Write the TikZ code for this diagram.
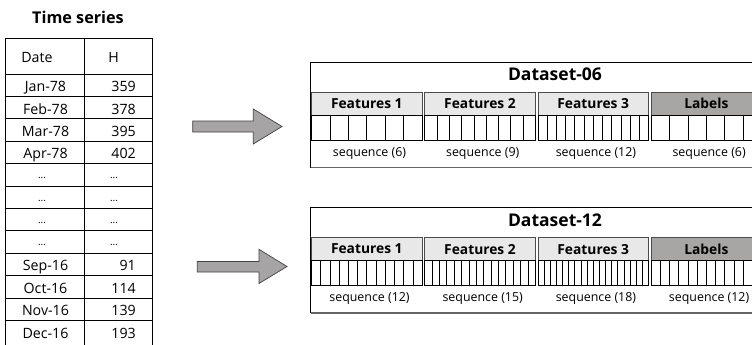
\documentclass[tikz,border=0pt]{standalone}
\usepackage{fontspec}
\setmainfont{Open Sans}
\definecolor{arrowgray}{HTML}{A6A4A4}
\definecolor{labgray}{HTML}{A8A5A5}
\definecolor{featgray}{HTML}{E8E8E8}
\newcommand{\tdd}{...}
\tikzset{
  tline/.style={draw=black, line width=0.9pt},
  ttext/.style={font=\fontsize{14.2}{16}\selectfont, inner sep=0pt},
  tdots/.style={font=\fontsize{10}{11}\selectfont, inner sep=0pt},
  bigtitle/.style={font=\bfseries\fontsize{16.2}{18}\selectfont, inner sep=0pt},
  dstitle/.style={font=\bfseries\fontsize{17.5}{19}\selectfont, inner sep=0pt},
  hdrtext/.style={font=\bfseries\fontsize{13.8}{15}\selectfont, inner sep=0pt},
  seqtext/.style={font=\fontsize{12.4}{13}\selectfont, inner sep=0pt},
  blockarrow/.style={draw=black!75, line width=0.7pt, fill=arrowgray},
  featfill/.style={draw=black!70, line width=0.7pt, fill=featgray},
  labfill/.style={draw=black!70, line width=0.7pt, fill=labgray},
  cellline/.style={draw=black, line width=0.7pt},
  dsbox/.style={draw=black, line width=0.8pt},
}
\newcommand{\dsblock}[7]{%
  % #1 name, #2 top y, #3 title, #4-#7 cell counts
  \draw[dsbox] (310.5,#2) rectangle (775,#2+105);
  \draw[black!60, line width=1.6pt] (310.5,#2+105.6) -- (775,#2+105.6);
  \node[dstitle, anchor=base] (#1-title) at (555,#2+19) {#3};
  \foreach \cnt/\lab/\sty [count=\j from 0] in {#4/Features 1/featfill, #5/Features 2/featfill, #6/Features 3/featfill, #7/Labels/labfill}{
    \pgfmathsetmacro\xl{311.5+113.2*\j}
    \pgfmathtruncatemacro\nm{\cnt-1}
    \draw[\sty] (\xl,#2+30.5) rectangle (\xl+110.6,#2+53);
    \node[hdrtext] (#1-h\j) at (\xl+55.3,#2+41.8) {\lab};
    \draw[cellline] (\xl,#2+53) rectangle (\xl+110.6,#2+78);
    \foreach \c in {1,...,\nm}{
      \draw[cellline] (\xl+110.6*\c/\cnt,#2+53) -- (\xl+110.6*\c/\cnt,#2+78);
    }
    \node[seqtext, anchor=base] (#1-s\j) at (\xl+58,#2+94.3) {sequence (\cnt)};
  }
}
\begin{document}
\begin{tikzpicture}[x=1pt,y=-1pt]
\useasboundingbox (0,0) rectangle (752,345);
\clip (0,0) rectangle (752,345);
\fill[white] (0,0) rectangle (752,345);

% title
\node[bigtitle, anchor=base] (ts) at (78,24) {Time series};

% table
\node[tline, inner sep=0pt, anchor=north west, minimum width=147pt, minimum height=320pt] (tbl) at (5,38) {};
\draw[tline] (84,38) -- (84,350);
\foreach \k in {0,...,11}{
  \draw[tline] (5,74+22.4*\k) -- (152,74+22.4*\k);
}
\node[ttext, anchor=base] (hdate) at (37,62.5) {Date};
\node[ttext, anchor=base] (hval) at (113.5,62.5) {H};
\foreach \d/\v [count=\i from 0] in {Jan-78/359, Feb-78/378, Mar-78/395, Apr-78/402, Sep-16/91, Oct-16/114, Nov-16/139, Dec-16/193}{
  \pgfmathtruncatemacro\r{\i<4 ? \i : \i+4}
  \node[ttext, anchor=base] (d\r) at (45.5,74+22.4*\r+17.6) {\d};
  \node[ttext, anchor=base east] (v\r) at (136,74+22.4*\r+17.6) {\v};
}
\foreach \r in {4,5,6,7}{
  \node[tdots, anchor=base] (d\r) at (42,74+22.4*\r+15) {\tdd};
  \node[tdots, anchor=base] (v\r) at (114,74+22.4*\r+15) {\tdd};
}

% block arrows
\draw[blockarrow] (192.7,121) -- (253.3,121) -- (253.3,109) -- (282,126.5) -- (253.3,144) -- (253.3,132) -- (192.7,132) -- cycle;
\draw[blockarrow] (197.3,261.5) -- (259,261.5) -- (259,249.3) -- (287,266.5) -- (259,283.5) -- (259,272) -- (197.3,272) -- cycle;

% datasets
\dsblock{ds06}{62}{Dataset-06}{6}{9}{12}{6}
\dsblock{ds12}{207.3}{Dataset-12}{12}{15}{18}{12}
\end{tikzpicture}
\end{document}
